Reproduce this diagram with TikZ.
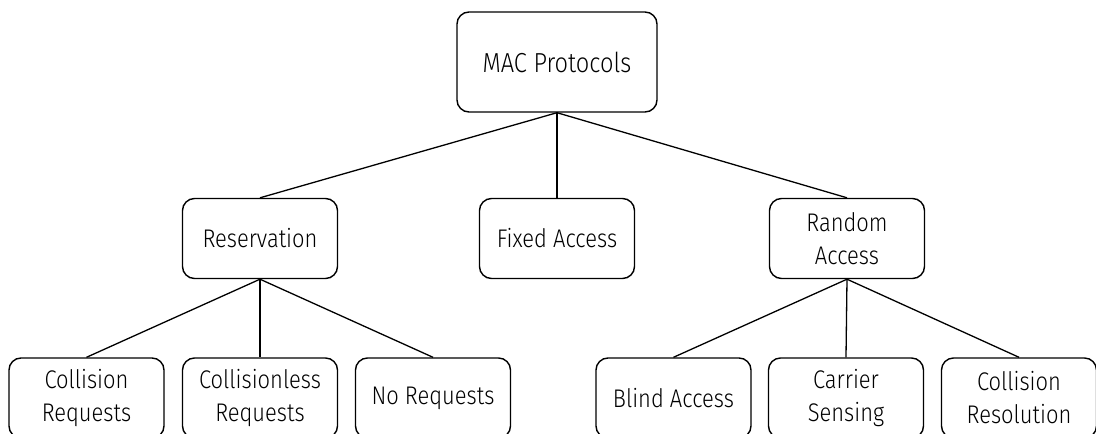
\documentclass[tikz,border=0pt]{standalone}
\usepackage{fontspec}
\setmainfont{Fira Sans Light}[FakeStretch=0.86]
\begin{document}
\begin{tikzpicture}[x=1pt,y=-1pt,
  box/.style={draw=black, line width=1.4pt, rounded corners=12pt, align=center,
    minimum width=155pt, minimum height=80pt, inner sep=0pt,
    font=\fontsize{25.5}{33}\selectfont},
  link/.style={draw=black, line width=1.3pt}]
  \useasboundingbox (0,0) rectangle (1096,434);
  \clip (0,0) rectangle (1096,434);
  % top level
  \node[box, minimum width=200pt, minimum height=100pt, font=\fontsize{27.5}{33}\selectfont] (mac) at (557,62) {MAC Protocols};
  % second level
  \node[box] (res) at (260,238.5) {Reservation};
  \node[box] (fix) at (557,238.5) {Fixed Access};
  \node[box] (rnd) at (847,238.5) {Random\\Access};
  % third level
  \node[box] (cr) at (86.5,398) {Collision\\Requests};
  \node[box] (clr) at (260,398) {Collisionless\\Requests};
  \node[box] (nr) at (433,398) {No Requests};
  \node[box] (ba) at (673.5,398) {Blind Access};
  \node[box] (cs) at (846,398) {Carrier\\Sensing};
  \node[box] (col) at (1019,398) {Collision\\Resolution};
  % connectors
  \draw[link] (mac.south) -- (res.north);
  \draw[link] (mac.south) -- (fix.north);
  \draw[link] (mac.south) -- (rnd.north);
  \draw[link] (res.south) -- (cr.north);
  \draw[link] (res.south) -- (clr.north);
  \draw[link] (res.south) -- (nr.north);
  \draw[link] (rnd.south) -- (ba.north);
  \draw[link] (rnd.south) -- (cs.north);
  \draw[link] (rnd.south) -- (col.north);
\end{tikzpicture}
\end{document}
